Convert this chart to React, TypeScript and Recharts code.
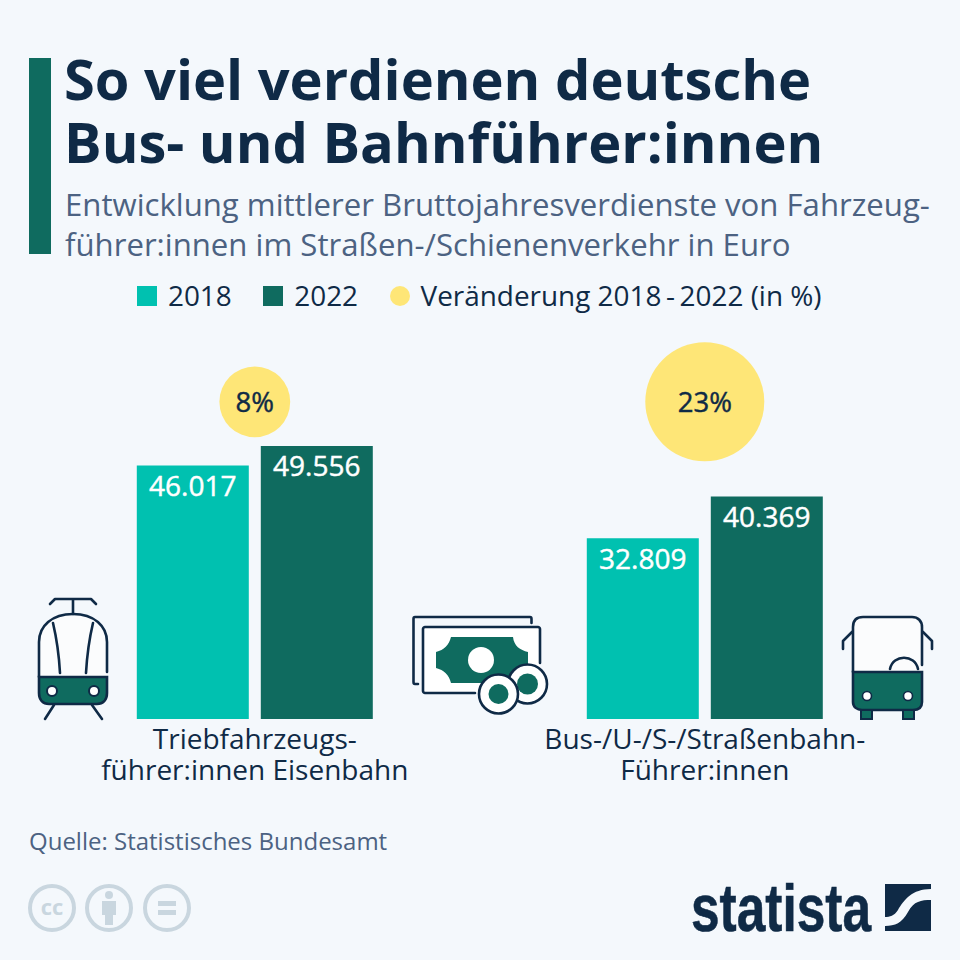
import { Bar, ComposedChart, LabelList, Legend, Scatter, XAxis, YAxis, ZAxis } from "recharts"

const categories = ["Triebfahrzeugs-|führer:innen Eisenbahn", "Bus-/U-/S-/Straßenbahn-|Führer:innen"]
const values2018 = [46017, 32809]
const values2022 = [49556, 40369]
const changes = [8, 23]
// height of the bubble row, in euro on the bar axis
const bubbleRow = [57560, 57560]

const data = categories.map((category, i) => ({
  category,
  y2018: values2018[i],
  y2022: values2022[i],
  change: changes[i],
  bubble: bubbleRow[i],
}))

const FONT = "'Open Sans', sans-serif"
const BG = "#f4f8fc"
const NAVY = "#0f2a46"
const SLATE = "#4c6282"
const TEAL = "#00c1b0"
const GREEN = "#0f6b5f"
const YELLOW = "#fee677"
const GREY = "#c9d6df"

const fmt = (v: number) => v.toLocaleString("de-DE")

function CategoryTick({ x, y, payload }: any) {
  const lines = String(payload.value).split("|")
  return (
    <text x={x} y={y} textAnchor="middle" fontFamily={FONT} fontSize={28} fill={NAVY}>
      {lines.map((line, i) => (
        <tspan key={line} x={x} dy={i === 0 ? 22 : 30.5}>
          {line}
        </tspan>
      ))}
    </text>
  )
}

function Icons() {
  const st = { fill: "none", stroke: NAVY, strokeWidth: 2.6, strokeLinecap: "round" as const, strokeLinejoin: "round" as const }
  return (
    <svg width={960} height={960} style={{ position: "absolute", left: 0, top: 0, pointerEvents: "none" }}>
      <rect x={29} y={58} width={22} height={196} fill={GREEN} />
      {/* tram */}
      <path d="M39 677V642C39 626 52 614 73 614C94 614 107 626 107 642V677Z" fill="#fbfcfd" />
      <path d="M39 677H107V693C107 700 103 704 97 704H49C43 704 39 700 39 693Z" fill={GREEN} stroke={NAVY} strokeWidth={2.6} />
      <path {...st} d="M39 677V642C39 626 52 614 73 614C94 614 107 626 107 642V672" />
      <path {...st} d="M73 614V599M50 604L55 599H91L96 604" />
      <path {...st} d="M53 623C57 640 59 655 60 673M93 623C89 640 87 655 86 673" />
      <path {...st} d="M54 705L45 719M92 705L102 719" />
      <circle cx={52} cy={691} r={5} fill="#fff" stroke={NAVY} strokeWidth={2} />
      <circle cx={94} cy={691} r={5} fill="#fff" stroke={NAVY} strokeWidth={2} />
      {/* money */}
      <path {...st} d="M418 684H415C414 684 413.5 683 413.5 682V619C413.5 618 414 617 415 617H530C531 617 531.5 618 531.5 619V623" />
      <rect x={423} y={627} width={117} height={66} rx={2} fill="#fff" />
      <path {...st} d="M475 693H425C424 693 423 692 423 691V629C423 628 424 627 425 627H538C539 627 540 628 540 629V663" />
      <path fill={GREEN} d="M451 637H513C514 646 520 650 528 652V668C520 670 514 676 513 683H451C449 675 444 670 436 668V652C444 650 449 645 451 637Z" />
      <circle cx={481} cy={660} r={13} fill="#fff" />
      <circle cx={527.5} cy={684} r={19.5} fill="#fff" stroke={NAVY} strokeWidth={2.6} />
      <circle cx={527.5} cy={684} r={10.5} fill={GREEN} />
      <circle cx={498.5} cy={694} r={19.5} fill="#fff" stroke={NAVY} strokeWidth={2.6} />
      <circle cx={498.5} cy={694} r={10} fill={GREEN} />
      {/* bus */}
      <path d="M853 672V627C853 620 857 617 863 617H912C918 617 922 621 922 627V672Z" fill="#fbfcfd" />
      <path d="M853 672H922V702C922 708 918 710 913 710H862C857 710 853 707 853 702Z" fill={GREEN} stroke={NAVY} strokeWidth={2.6} />
      <path {...st} d="M853 672V627C853 620 857 617 863 617H912C918 617 922 621 922 627V665" />
      <path {...st} d="M852 632L843 641V649M923 632L932 641V649M890 669C893 654 915 654 918 669" />
      <rect x={861} y={710} width={11} height={9} fill={GREEN} stroke={NAVY} strokeWidth={2} />
      <rect x={903} y={710} width={11} height={9} fill={GREEN} stroke={NAVY} strokeWidth={2} />
      <circle cx={867} cy={696} r={4.5} fill="#fff" stroke={NAVY} strokeWidth={1.6} />
      <circle cx={908} cy={696} r={4.5} fill="#fff" stroke={NAVY} strokeWidth={1.6} />
      {/* licence marks */}
      {[52, 109, 167].map((cx) => (
        <circle key={cx} cx={cx} cy={908} r={22} fill="none" stroke={GREY} strokeWidth={4} />
      ))}
      <text x={52} y={915} textAnchor="middle" fontFamily={FONT} fontSize={22} fontWeight={700} fill={GREY}>cc</text>
      <circle cx={109} cy={895} r={4} fill={GREY} />
      <rect x={102} y={901} width={14} height={14} fill={GREY} />
      <rect x={105} y={912} width={8} height={13} fill={GREY} />
      <rect x={158} y={901} width={18} height={5} fill={GREY} />
      <rect x={158} y={910} width={18} height={5} fill={GREY} />
      {/* logo */}
      <text x={691} y={931} fontFamily="'Liberation Sans Narrow', 'Liberation Sans', sans-serif" fontSize={67} fontWeight={700} fill={NAVY} stroke={NAVY} strokeWidth={0.6} textLength={180} lengthAdjust="spacingAndGlyphs">statista</text>
      <rect x={885} y={884} width={46} height={47} fill={NAVY} />
      <path fill={BG} d="M931 889C912 889 904 900 898 910C894 916 890 917 885 917V926C895 926 902 923 908 912C914 901 921 900 931 900Z" />
    </svg>
  )
}

export default function App() {
  return (
    <div style={{ position: "absolute", left: 0, top: 0, width: 960, height: 960, background: BG, overflow: "hidden", fontFamily: FONT }}>
      <div style={{ position: "absolute", left: 64, top: 47, fontSize: 56, fontWeight: 700, lineHeight: "63px", color: NAVY, whiteSpace: "nowrap" }}>
        So viel verdienen deutsche
        <br />
        Bus- und Bahnführer:innen
      </div>
      <div style={{ position: "absolute", left: 65, top: 184, fontSize: 31.15, lineHeight: "40px", color: SLATE, whiteSpace: "nowrap" }}>
        Entwicklung mittlerer Bruttojahresverdienste von Fahrzeug-
        <br />
        führer:innen im Straßen-/Schienenverkehr in Euro
      </div>
      <ComposedChart
        width={960}
        height={960}
        data={data}
        barSize={112}
        barGap={12}
        margin={{ top: 388.4, right: 30.2, bottom: 181, left: 29.8 }}
        style={{ position: "absolute", left: 0, top: 0 }}
      >
        <XAxis dataKey="category" axisLine={false} tickLine={false} height={60} interval={0} tick={<CategoryTick />} />
        <YAxis hide domain={[0, 60000]} />
        <ZAxis dataKey="change" domain={[8, 23]} range={[3937, 11122]} />
        <Legend
          layout="horizontal"
          align="center"
          verticalAlign="middle"
          iconSize={20}
          wrapperStyle={{ left: 15, top: 270, width: 960 }}
          formatter={(value: string) => (
            <span style={{ color: NAVY, fontSize: 27.9, marginLeft: 7, marginRight: 21.5, position: "relative", top: 6 }}>{value}</span>
          )}
        />
        <Bar dataKey="y2018" name="2018" fill={TEAL} legendType="square" isAnimationActive={false}>
          <LabelList dataKey="y2018" position="insideTop" offset={10.5} formatter={fmt} fill="#fff" stroke="#fff" strokeWidth={0.45} fontSize={28} fontWeight={500} fontFamily={FONT} />
        </Bar>
        <Bar dataKey="y2022" name="2022" fill={GREEN} legendType="square" isAnimationActive={false}>
          <LabelList dataKey="y2022" position="insideTop" offset={10.5} formatter={fmt} fill="#fff" stroke="#fff" strokeWidth={0.45} fontSize={28} fontWeight={500} fontFamily={FONT} />
        </Bar>
        <Scatter dataKey="bubble" name={"Veränderung 2018\u2009-\u20092022 (in %)"} fill={YELLOW} legendType="circle" isAnimationActive={false}>
          <LabelList dataKey="change" position="center" formatter={(v: number) => `${v}%`} fill={NAVY} stroke={NAVY} strokeWidth={0.45} fontSize={27.5} fontWeight={500} fontFamily={FONT} />
        </Scatter>
      </ComposedChart>
      <div style={{ position: "absolute", left: 29, top: 825, fontSize: 24, lineHeight: "32px", color: SLATE, whiteSpace: "nowrap" }}>
        Quelle: Statistisches Bundesamt
      </div>
      <Icons />
    </div>
  )
}
